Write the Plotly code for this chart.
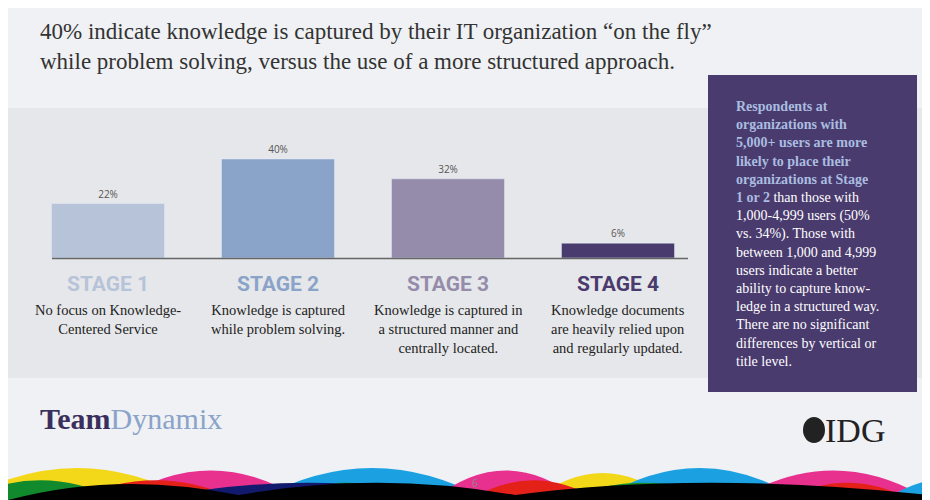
import plotly.graph_objects as go

# data
stages = ['STAGE 1', 'STAGE 2', 'STAGE 3', 'STAGE 4']
values = [22, 40, 32, 6]
labels = ['22%', '40%', '32%', '6%']
descs = ['No focus on Knowledge-<br>Centered Service',
         'Knowledge is captured<br>while problem solving.',
         'Knowledge is captured in<br>a structured manner and<br>centrally located.',
         'Knowledge documents<br>are heavily relied upon<br>and regularly updated.']
colors = ['#b6c3d8', '#8aa3c9', '#958cac', '#4a3b6e']

# the page has an 8px body margin, so the figure starts at (8, 8)
OFF = 8
W, H = 930 - OFF, 500 - OFF
def px(x): return (x - OFF) / W
def py(y): return 1 - (y - OFF) / H

fig = go.Figure()
fig.add_trace(go.Bar(x=list(range(4)), y=values, marker_color=colors, width=0.665,
                     text=labels, textposition='outside',
                     textfont=dict(family='Open Sans', size=10, color='#555'),
                     cliponaxis=False, hoverinfo='skip'))

def wave(color, x0, x1, top):
    xm = (x0 + x1) / 2
    return dict(type='path', xref='paper', yref='paper', fillcolor=color, line_width=0,
                path='M %f,0 Q %f,%f %f,0 Z' % (x0, xm, top, x1))

shapes = [
    dict(type='rect', xref='paper', yref='paper', x0=0, x1=1, y0=py(378), y1=py(108),
         fillcolor='#e6e7ea', line_width=0, layer='below'),
    dict(type='line', xref='paper', yref='paper', x0=px(52), x1=px(688), y0=py(258.5), y1=py(258.5),
         line=dict(color='#666', width=1.5)),
    dict(type='rect', xref='paper', yref='paper', x0=px(708), x1=px(917), y0=py(392), y1=py(75),
         fillcolor='#4a3b6e', line_width=0),
    # decorative ribbon at the bottom
    wave('#f3d81a', -0.05, 0.2, 0.13),
    wave('#e8318f', 0.12, 0.32, 0.12),
    wave('#1ba1e2', 0.27, 0.52, 0.13),
    wave('#e8318f', 0.46, 0.62, 0.12),
    wave('#f3d81a', 0.57, 0.72, 0.11),
    wave('#1ba1e2', 0.64, 0.86, 0.13),
    wave('#e8318f', 0.79, 1.0, 0.12),
    wave('#1ba1e2', 0.95, 1.1, 0.09),
    wave('#108a2c', -0.05, 0.12, 0.08),
    wave('#e32119', 0.07, 0.25, 0.08),
    wave('#108a2c', 0.28, 0.45, 0.07),
    wave('#e32119', 0.5, 0.64, 0.08),
    wave('#108a2c', 0.6, 0.78, 0.07),
    wave('#e32119', 0.84, 0.98, 0.07),
    wave('#121a6e', 0.15, 0.5, 0.07),
    wave('#121a6e', 0.7, 0.95, 0.06),
    dict(type='path', xref='paper', yref='paper', fillcolor='#000000', line_width=0,
         path='M 0,0 Q 0.12,0.06 0.25,0.01 Q 0.4,0.06 0.55,0.01 Q 0.75,0.06 1,0.01 L 1,0 Z'),
    # IDG logo globe
    dict(type='circle', xref='paper', yref='paper', x0=px(803), x1=px(825), y0=py(443), y1=py(417),
         fillcolor='#222', line_width=0),
]

P = dict(xref='paper', yref='paper', showarrow=False)
ann = [
    dict(x=px(38), y=py(46), xanchor='left', yanchor='middle', align='left',
         text='40% indicate knowledge is captured by their IT organization “on the fly”<br>'
              'while problem solving, versus the use of a more structured approach.',
         font=dict(family='Liberation Serif', size=23, color='#333'), **P),
    dict(x=px(734), y=py(234), xanchor='left', yanchor='middle', align='left',
         text='<b><span style="color:#a9bde0">Respondents at<br>organizations with<br>5,000+ users are more<br>'
              'likely to place their<br>organizations at Stage<br>1 or 2</span></b> than those with<br>'
              '1,000-4,999 users (50%<br>vs. 34%). Those with<br>between 1,000 and 4,999<br>'
              'users indicate a better<br>ability to capture know-<br>ledge in a structured way.<br>'
              'There are no significant<br>differences by vertical or<br>title level.',
         font=dict(family='Liberation Serif', size=14, color='white'), **P),
    dict(x=px(38), y=py(418), xanchor='left', yanchor='middle',
         text='<b>Team</b><span style="color:#8aa3c9">Dynamix</span>',
         font=dict(family='Liberation Serif', size=30, color='#3a2f5c'), **P),
    dict(x=px(823), y=py(430), xanchor='left', yanchor='middle',
         text='IDG', font=dict(family='Liberation Serif', size=34, color='#222'), **P),
    dict(x=px(475), y=py(492), text='6', font=dict(size=10, color='#888'), **P),
]
for i in range(4):
    ann.append(dict(x=i, xref='x', y=py(284), yref='paper', showarrow=False, text='<b>%s</b>' % stages[i],
                    font=dict(family='Roboto', size=21, color=colors[i]), yanchor='middle'))
    ann.append(dict(x=i, xref='x', y=py(300), yref='paper', showarrow=False, text=descs[i],
                    yanchor='top', align='center',
                    font=dict(family='Liberation Serif', size=14.5, color='#222')))

fig.update_layout(
    width=W, height=H, margin=dict(l=0, r=0, t=0, b=0),
    paper_bgcolor='#eff1f4', plot_bgcolor='rgba(0,0,0,0)',
    showlegend=False, shapes=shapes, annotations=ann,
    xaxis=dict(domain=[0, 1], range=[-(108 - OFF)/170, (930-108)/170], visible=False),
    yaxis=dict(domain=[py(258), py(108)], range=[0, 60.6], visible=False),
)
fig.write_html('out.html')
